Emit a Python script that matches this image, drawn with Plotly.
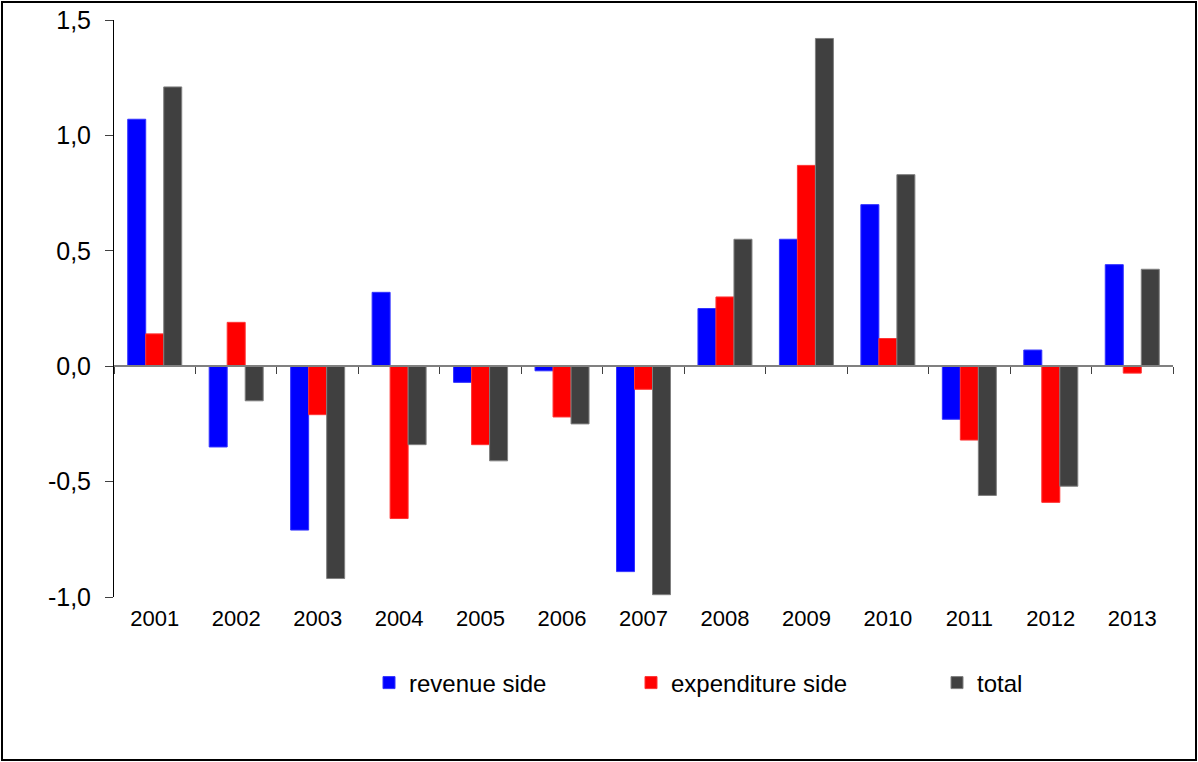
import plotly.graph_objects as go

years = ["2001", "2002", "2003", "2004", "2005", "2006", "2007",
         "2008", "2009", "2010", "2011", "2012", "2013"]
revenue_side = [1.07, -0.35, -0.71, 0.32, -0.07, -0.02, -0.89,
                0.25, 0.55, 0.70, -0.23, 0.07, 0.44]
expenditure_side = [0.14, 0.19, -0.21, -0.66, -0.34, -0.22, -0.10,
                    0.30, 0.87, 0.12, -0.32, -0.59, -0.03]
total = [1.21, -0.15, -0.92, -0.34, -0.41, -0.25, -0.99,
         0.55, 1.42, 0.83, -0.56, -0.52, 0.42]

y_ticks = [-1.0, -0.5, 0.0, 0.5, 1.0, 1.5]
y_tick_labels = ["-1,0", "-0,5", "0,0", "0,5", "1,0", "1,5"]

FONT = "Liberation Sans, Arial, sans-serif"
W, H = 1198, 762
ML, MR, MT, MB = 114, 25, 20, 165
PW = W - ML - MR
PH = H - MT - MB


def px_x(p):
    return (p - ML) / PW


def px_y(p):
    return (H - MB - p) / PH


fig = go.Figure()
fig.add_trace(go.Bar(x=years, y=revenue_side, name="revenue side",
                     marker=dict(color="#0000FF", line=dict(color="#3333FF", width=1)),
                     legend="legend"))
fig.add_trace(go.Bar(x=years, y=expenditure_side, name="expenditure side",
                     marker=dict(color="#FF0000", line=dict(color="#FF3333", width=1)),
                     legend="legend2"))
fig.add_trace(go.Bar(x=years, y=total, name="total",
                     marker=dict(color="#404040", line=dict(color="#808080", width=1)),
                     legend="legend3"))
# invisible helper trace so the zero-line category axis gets its ticks
fig.add_trace(go.Scatter(x=years, y=[0] * len(years), xaxis="x2", mode="markers",
                         marker=dict(opacity=0), showlegend=False, hoverinfo="skip"))

legend_common = dict(orientation="h", yanchor="middle", xanchor="left",
                     font=dict(family=FONT, size=24, color="black"),
                     bgcolor="rgba(0,0,0,0)", borderwidth=0)

fig.update_layout(
    width=W, height=H,
    margin=dict(l=ML, r=MR, t=MT, b=MB, autoexpand=False),
    paper_bgcolor="white", plot_bgcolor="white",
    barmode="group", bargap=0.337, bargroupgap=0,
    font=dict(family=FONT, color="black"),
    xaxis=dict(type="category", range=[-0.5, 12.5], showline=False, ticks="",
               showgrid=False, zeroline=False,
               tickfont=dict(family=FONT, size=22, color="black"),
               ticklabelstandoff=6),
    xaxis2=dict(type="category", overlaying="x", anchor="free", position=0.4,
                range=[-0.5, 12.5], showline=True, linecolor="#808080", linewidth=2,
                ticks="outside", tickson="boundaries", ticklen=7, tickcolor="#404040",
                tickwidth=1, showticklabels=False, showgrid=False, zeroline=False),
    yaxis=dict(range=[-1.0, 1.5], tickvals=y_ticks, ticktext=y_tick_labels,
               showline=True, linecolor="black", linewidth=1,
               ticks="outside", ticklen=8, tickcolor="#404040",
               showgrid=False, zeroline=False,
               tickfont=dict(family=FONT, size=25, color="black"),
               ticklabelstandoff=9),
    legend=dict(x=px_x(369), y=px_y(683), **legend_common),
    legend2=dict(x=px_x(631), y=px_y(683), **legend_common),
    legend3=dict(x=px_x(937), y=px_y(683), **legend_common),
    shapes=[dict(type="rect", xref="paper", yref="paper",
                 x0=px_x(2), x1=px_x(1196), y0=px_y(760), y1=px_y(2),
                 line=dict(color="black", width=2), fillcolor="rgba(0,0,0,0)",
                 layer="below")],
)

fig.write_html("out.html",
               config={"displayModeBar": False},
               post_script="document.body.style.margin='0';document.body.style.overflow='hidden';")
